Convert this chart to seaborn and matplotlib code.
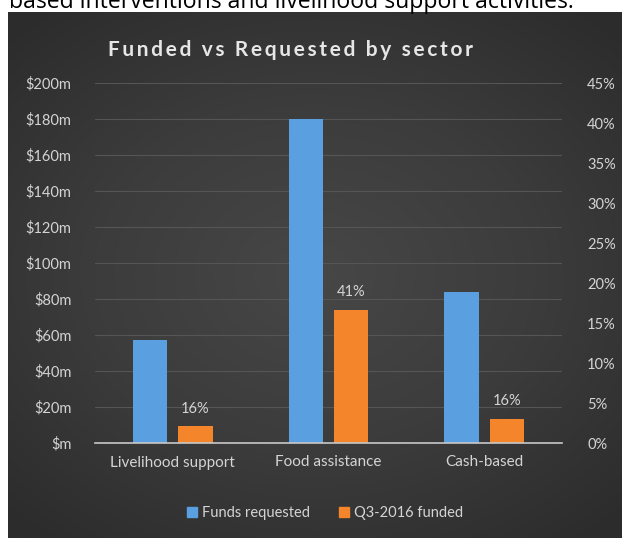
import numpy as np
import pandas as pd
import matplotlib
matplotlib.use("Agg")
import matplotlib.pyplot as plt
import seaborn as sns

# values
sectors = ["Livelihood support", "Food assistance", "Cash-based"]
requested = [57, 180, 84]        # $m
funded = [9.2, 74, 13.5]         # $m
funded_pct = ["16%", "41%", "16%"]
left_ticks = [0, 20, 40, 60, 80, 100, 120, 140, 160, 180, 200]
right_ticks = [0, 5, 10, 15, 20, 25, 30, 35, 40, 45]
series = ["Funds requested", "Q3-2016 funded"]
title = "Funded vs Requested by sector"

BLUE = "#5a9fe0"
ORANGE = "#f5852a"
TXT = "#d4d4d4"


def main():
    sns.set_theme(style="white")
    plt.rcParams["font.family"] = ["Lato", "DejaVu Sans"]

    fig = plt.figure(figsize=(6.22, 5.38), dpi=100)
    fig.patch.set_facecolor("white")

    # caption line cut off at the top of the picture
    fig.text(9 / 622, 1 - 8.5 / 538, "based interventions and livelihood support activities.",
             fontsize=16.6, color="black", va="baseline", ha="left",
             family=["Open Sans", "DejaVu Sans"])

    # dark gradient panel behind the chart
    bg = fig.add_axes([8 / 622, 0, 614 / 622, 526 / 538])
    yy, xx = np.mgrid[-1:1:200j, -1:1:200j]
    rr = np.sqrt((xx * 0.9) ** 2 + (yy * 1.0) ** 2)
    bg.imshow(rr, cmap=sns.blend_palette(["#474747", "#3c3c3c", "#2c2c2c"], as_cmap=True),
              aspect="auto", extent=[0, 1, 0, 1], vmin=0, vmax=1.3)
    bg.set_axis_off()

    df = pd.DataFrame({
        "sector": sectors * 2,
        "value": requested + funded,
        "series": [series[0]] * 3 + [series[1]] * 3,
    })

    ax = fig.add_axes([95 / 622, 1 - 443 / 538, 467 / 622, 360 / 538])
    ax.patch.set_alpha(0)
    sns.barplot(data=df, x="sector", y="value", hue="series", order=sectors,
                hue_order=series, palette=[BLUE, ORANGE], width=0.58, gap=0.24,
                saturation=1, linewidth=0, edgecolor="none", ax=ax, legend=False)
    ax.set_xlim(-0.5, 2.5)
    ax.set_ylim(0, 200)
    ax.set_yticks(left_ticks)
    ax.set_yticklabels([f"${v}m" if v else "$m" for v in left_ticks])
    ax.set_xlabel("")
    ax.set_ylabel("")
    for s in ["top", "right", "left"]:
        ax.spines[s].set_visible(False)
    ax.spines["bottom"].set_color("#c8c8c8")
    ax.spines["bottom"].set_linewidth(1.2)
    ax.yaxis.grid(True, color="#555555", linewidth=0.8)
    ax.set_axisbelow(True)
    ax.tick_params(axis="y", colors=TXT, labelsize=10.5, length=0, pad=17)
    ax.tick_params(axis="x", colors=TXT, labelsize=11, length=0, pad=9)

    # percentage labels above the funded bars
    offset = 0.58 / 4
    for i, (v, lab) in enumerate(zip(funded, funded_pct)):
        ax.text(i + offset, v + 6, lab, ha="center", va="bottom",
                color=TXT, fontsize=10.5)

    ax2 = ax.twinx()
    ax2.set_ylim(0, 45)
    ax2.set_yticks(right_ticks)
    ax2.set_yticklabels([f"{v}%" for v in right_ticks])
    for s in ax2.spines.values():
        s.set_visible(False)
    ax2.tick_params(axis="y", colors=TXT, labelsize=10.5, length=0, pad=18)
    ax2.grid(False)

    # letter-spaced title like the spreadsheet original
    fig.text(108 / 622, 1 - 50 / 538, "\u2009".join(title),
             ha="left", va="center", color="#e6e6e6", fontsize=15,
             fontweight="bold")

    handles = [plt.Rectangle((0, 0), 1, 1, color=BLUE),
               plt.Rectangle((0, 0), 1, 1, color=ORANGE)]
    fig.legend(handles, series, loc="center", bbox_to_anchor=(325 / 622, 1 - 513 / 538),
               ncol=2, frameon=False, fontsize=10.5, labelcolor=TXT,
               handlelength=0.7, handleheight=0.7, handletextpad=0.3,
               columnspacing=2.0)

    fig.savefig("out.png", dpi=100, facecolor=fig.get_facecolor())


main()
